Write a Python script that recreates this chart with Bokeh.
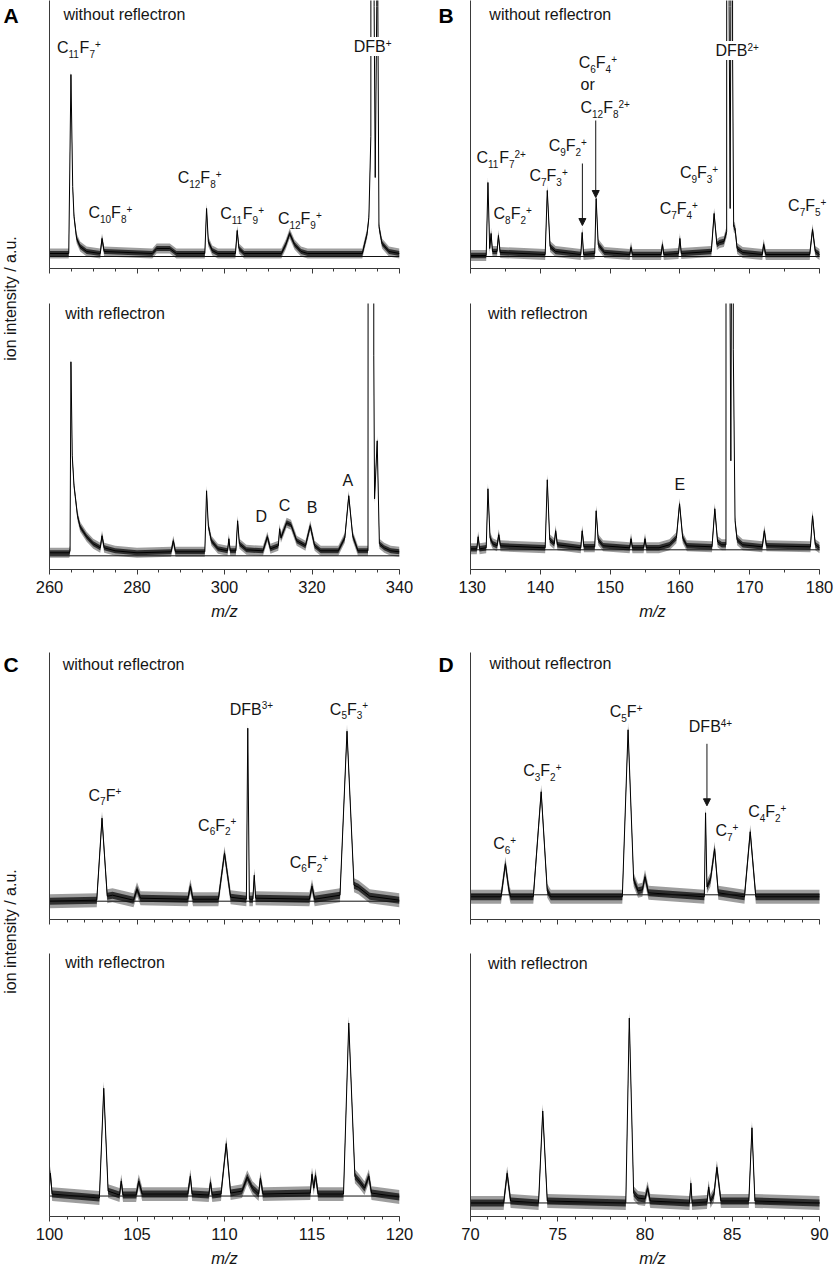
import math
import re
from bokeh.plotting import figure
from bokeh.layouts import row, column
from bokeh.models import (Range1d, Arrow, NormalHead, ColumnDataSource,
                          SingleIntervalTicker, FixedTicker, CustomJSTickFormatter)
from bokeh.core.properties import value
from bokeh.embed import file_html
from bokeh.resources import INLINE

# ------------------------------------------------------------------ data
# spectra as (m/z, intensity) vertices (a.u.; 2000 = off scale)
A_top = [(260.0, 3), (264.4, 3), (264.9, 182), (265.3, 70), (265.6, 40), (266.2, 18), (267.0, 10),
         (268.5, 5), (271.6, 3), (272.0, 18), (272.5, 5), (283.5, 3), (284.5, 8), (287.5, 8), (289.0, 3),
         (295.5, 3), (295.9, 48), (296.3, 15), (297.2, 6), (298.5, 3), (302.5, 3), (302.9, 26), (303.3, 8),
         (304.5, 3), (313.0, 3), (314.0, 12), (314.9, 23), (316.0, 12), (317.5, 5), (319.0, 3), (331.5, 3),
         (332.6, 23), (333.0, 39), (333.45, 120), (333.55, 2000), (334.1, 2000), (334.2, 250), (334.45, 79),
         (334.8, 250), (334.85, 2000), (334.95, 2000), (335.05, 250), (335.3, 30), (336.0, 13), (337.6, 5),
         (340.0, 3)]
A_bot = [(260.0, 3), (264.5, 3), (264.7, 5), (264.9, 194), (265.2, 100), (265.6, 70), (265.9, 59),
         (266.4, 40), (267.0, 29), (268.5, 19), (270.0, 12), (271.6, 8), (272.0, 20), (272.5, 8), (275.0, 5),
         (280.0, 3), (287.8, 4), (288.3, 15), (288.8, 4), (295.5, 4), (295.9, 65), (296.3, 30), (297.0, 15),
         (298.5, 7), (300.7, 5), (301.0, 17), (301.3, 5), (302.6, 5), (303.0, 35), (303.4, 12), (305.0, 6),
         (308.8, 5), (309.8, 19), (310.5, 7), (312.3, 10), (312.6, 27), (312.9, 18), (314.2, 33), (315.2, 31),
         (316.5, 15), (318.5, 10), (319.6, 30), (320.6, 10), (322.0, 5), (326.0, 5), (327.5, 18), (328.4, 60),
         (329.3, 20), (330.5, 5), (332.8, 5), (332.95, 2000), (334.05, 2000), (334.12, 200), (334.3, 57),
         (334.9, 115), (335.4, 12), (336.5, 8), (338.0, 5), (340.0, 4)]
B_top = [(130.0, 1), (132.25, 1), (132.5, 74), (132.75, 8), (132.95, 23), (133.15, 5), (133.8, 5), (134.0, 21),
         (134.25, 4), (140.7, 2), (141.0, 66), (141.4, 10), (142.2, 5), (145.8, 2), (146.0, 24), (146.2, 2),
         (147.8, 3), (148.0, 58), (148.3, 12), (149.2, 4), (152.8, 2), (153.0, 9), (153.2, 2), (157.3, 2),
         (157.5, 12), (157.7, 2), (159.8, 3), (160.0, 18), (160.2, 3), (164.5, 5), (164.9, 43), (165.3, 12),
         (165.7, 14), (166.3, 15), (166.7, 25), (166.75, 2000), (167.0, 2000), (167.05, 250), (167.2, 48),
         (167.3, 250), (167.35, 2000), (167.45, 2000), (167.55, 200), (167.7, 30), (167.9, 28), (168.2, 8),
         (169.0, 4), (171.8, 2), (172.0, 12), (172.3, 2), (178.6, 2), (179.0, 27), (179.4, 5), (180.0, 2)]
B_bot = [(130.0, 1), (130.9, 1), (131.1, 13), (131.3, 1), (132.25, 2), (132.5, 61), (132.8, 12), (133.2, 6),
         (133.8, 4), (134.05, 15), (134.3, 4), (140.7, 2), (141.0, 70), (141.35, 10), (142.0, 6), (142.2, 19),
         (142.45, 5), (145.8, 2), (146.0, 19), (146.25, 3), (147.8, 3), (148.0, 39), (148.3, 10), (149.0, 4),
         (152.8, 2), (153.0, 11), (153.2, 2), (154.8, 2), (155.0, 11), (155.2, 2), (157.0, 2), (158.5, 5),
         (159.5, 12), (159.95, 46), (160.4, 12), (161.0, 4), (164.6, 3), (165.0, 41), (165.4, 8), (166.0, 5),
         (166.6, 5), (166.65, 2000), (167.1, 2000), (167.15, 300), (167.3, 89), (167.4, 300), (167.45, 2000),
         (167.6, 2000), (167.65, 200), (167.9, 29), (168.2, 10), (169.0, 5), (171.8, 3), (172.1, 19),
         (172.4, 4), (178.7, 3), (179.0, 34), (179.4, 5), (180.0, 2)]
C_top = [(100.0, 0), (102.7, 1), (103.0, 83), (103.3, 5), (103.6, 6), (104.8, 1), (105.0, 12), (105.2, 3),
         (107.9, 2), (108.05, 15), (108.2, 2), (109.65, 2), (110.0, 48), (110.35, 4), (111.25, 2),
         (111.33, 173), (111.42, 2), (111.62, 2), (111.7, 26), (111.78, 3), (114.85, 2), (115.0, 15),
         (115.15, 2), (116.6, 6), (117.0, 170), (117.4, 16), (117.65, 14), (118.3, 5), (120.0, 1)]
C_bot = [(100.0, 10), (100.05, 23), (100.15, 2), (102.85, -2), (103.1, 109), (103.35, 5), (104.0, 1),
         (104.1, 15), (104.2, 1), (104.95, 1), (105.1, 15), (105.3, 2), (107.9, 2), (108.05, 20), (108.15, 2),
         (109.1, 1), (109.2, 14), (109.3, 1), (109.8, 2), (110.1, 53), (110.35, 3), (111.0, 5), (111.3, 19),
         (111.6, 8), (111.95, 2), (112.05, 18), (112.2, 2), (114.9, 3), (115.0, 22), (115.1, 8), (115.2, 21),
         (115.35, 2), (116.8, 2), (117.1, 175), (117.45, 20), (117.7, 15), (118.0, 8), (118.25, 20),
         (118.4, 3), (120.0, -1)]
D_top = [(70.0, -2), (71.75, -2), (72.0, 31), (72.2, 5), (72.3, -2), (73.6, -2), (74.05, 103), (74.4, 4),
         (74.6, -2), (78.7, -2), (79.03, 165), (79.35, 15), (79.6, 4), (79.85, 5), (80.0, 18), (80.2, 2),
         (83.4, -2), (83.47, 82), (83.55, 8), (83.75, 15), (83.99, 46), (84.2, 2), (85.7, -2), (86.03, 63),
         (86.35, -2), (90.0, -2)]
D_bot = [(70.0, 0), (71.9, 0), (72.1, 30), (72.3, 2), (73.9, 0), (74.14, 93), (74.4, 2), (78.9, 0),
         (79.1, 187), (79.35, 10), (79.6, 5), (80.0, 4), (80.15, 15), (80.3, 2), (82.55, 0), (82.63, 20),
         (82.7, 0), (83.55, 1), (83.65, 16), (83.75, 2), (83.95, 8), (84.12, 36), (84.35, 2), (85.95, 2),
         (86.13, 76), (86.3, 2), (90.0, 0)]

# noise half-amplitude (outer envelope) of each trace (a.u.)
NOISE = {"A_top": 5, "A_bot": 5, "B_top": 5.5, "B_bot": 5.5, "C_top": 7, "C_bot": 7, "D_top": 7, "D_bot": 7}

# x ranges (m/z)
XR = {"A": (260, 340), "B": (130, 180), "C": (100, 120), "D": (70, 90)}
TICK_MAJOR = {"A": 20, "B": 10, "C": 5, "D": 5}
TICK_MINOR_N = {"A": 4, "B": 2, "C": 5, "D": 5}

# peak annotations: {sub}, [sup]
A_top_labels = [("without reflectron", 263.2, 242), ("C{11}F{7}[+]", 261.7, 209), ("C{10}F{8}[+]", 268.9, 44),
                ("C{12}F{8}[+]", 289.3, 79), ("C{11}F{9}[+]", 299.0, 43), ("C{12}F{9}[+]", 312.2, 38)]
A_top_boxed = [("DFB[+]", 329.3, 210)]
A_bot_labels = [("with reflectron", 263.6, 242)]
A_bot_letters = [("D", 308.4, 39), ("C", 313.7, 50), ("B", 320.0, 48), ("A", 328.2, 75)]
B_top_labels = [("without reflectron", 132.7, 242), ("C{11}F{7}[2+]", 130.86, 99), ("C{8}F{2}[+]", 133.3, 43),
                ("C{7}F{3}[+]", 138.45, 81), ("C{9}F{2}[+]", 141.2, 111), ("C{6}F{4}[+]", 145.5, 194),
                ("or", 145.76, 171), ("C{12}F{8}[2+]", 145.76, 149), ("C{7}F{4}[+]", 157.1, 48),
                ("C{9}F{3}[+]", 160.0, 84), ("C{7}F{5}[+]", 175.5, 51)]
B_top_boxed = [("DFB[2+]", 164.96, 206)]
B_top_arrows = [(146.03, 93, 31), (147.94, 136, 59)]
B_bot_labels = [("with reflectron", 132.5, 236)]
B_bot_letters = [("E", 160.0, 65)]
C_top_labels = [("without reflectron", 100.75, 237), ("C{7}F[+]", 102.23, 106), ("C{6}F{2}[+]", 108.49, 76),
                ("DFB[3+]", 110.3, 192), ("C{6}F{2}[+]", 113.73, 39), ("C{5}F{3}[+]", 116.02, 192)]
C_bot_labels = [("with reflectron", 100.9, 236)]
D_top_labels = [("without reflectron", 71.09, 231), ("C{6}[+]", 71.3, 51), ("C{3}F{2}[+]", 73.02, 124),
                ("C{5}F[+]", 77.98, 183), ("DFB[4+]", 82.51, 168), ("C{7}[+]", 84.04, 64),
                ("C{4}F{2}[+]", 85.91, 83)]
D_top_arrows = [(83.55, 151, 89)]
D_bot_labels = [("with reflectron", 71.0, 242.6)]

Y_LABEL = "ion intensity / a.u."

# ------------------------------------------------------------------ style / layout
FONT = "Liberation Sans"
TC = "#151515"
AXC = "#3a3a3a"
MAIN = 16
SMALL = 10
MID = 0.36  # vertical distance (em) between glyph middle and alphabetic baseline
W = {"0": 556, "1": 556, "2": 556, "3": 556, "4": 556, "5": 556, "6": 556, "7": 556, "8": 556, "9": 556,
     "+": 584, "C": 722, "F": 611, "D": 722, "B": 667, "A": 667, "E": 667, "o": 556, "r": 333, " ": 278,
     "w": 722, "i": 222, "t": 278, "h": 556, "u": 556, "e": 556, "f": 278, "l": 222, "c": 500, "n": 556}

# page geometry (px): frame top, axis line, zero line
ROWS = {1: dict(h=285, top=0, mbt=0, mbb=17, axis=268),
        2: dict(h=345, top=303, mbt=18, mbb=61, axis=569),
        3: dict(h=305, top=652, mbt=22, mbb=16, axis=919),
        4: dict(h=334, top=953, mbt=18, mbb=50, axis=1219)}
BASE = {"A_top": 256, "B_top": 256, "A_bot": 555.3, "B_bot": 549.3,
        "C_top": 900.7, "D_top": 894.3, "C_bot": 1198.3, "D_bot": 1205.3}
STRIP_W = 22
MID_W = 38
COLS = {"L": dict(w=420 - STRIP_W, mbl=49 - STRIP_W, mbr=21, extra=0),
        "R": dict(w=414 - MID_W, mbl=50 - MID_W, mbr=0, extra=15)}


def text_rows(specs, letters=()):
    # y values are the visual centre of the capitals; offsets in screen px (down positive)
    d = dict(x=[], y=[], text=[], xo=[], yo=[], fs=[])
    for spec, x, y in specs:
        segs = re.findall(r"\{([^}]*)\}|\[([^\]]*)\]|([^{\[]+)", spec)
        off = 0.0
        base = 4.3 if spec == "or" else 5.7   # baseline below the centre
        for sub, sup, nor in segs:
            if nor:
                t, fs, bl = nor, MAIN, base
            elif sub:
                t, fs, bl = sub, SMALL, base + 4
            else:
                t, fs, bl = sup, SMALL, base - 6
            d["x"].append(x); d["y"].append(y); d["text"].append(t)
            d["xo"].append(off); d["yo"].append(bl - MID * fs); d["fs"].append(f"{fs}px")
            off += sum(W.get(c, 556) for c in t) / 1000 * fs
    for t, x, y in letters:
        wdt = sum(W.get(c, 556) for c in t) / 1000 * MAIN
        d["x"].append(x); d["y"].append(y); d["text"].append(t)
        d["xo"].append(-wdt / 2); d["yo"].append(5.7 - MID * MAIN); d["fs"].append(f"{MAIN}px")
    return d


def add_texts(p, d, boxed=False):
    if not d["x"]:
        return
    kw = dict(background_fill_color="white", padding=1) if boxed else {}
    p.text(x="x", y="y", text="text", x_offset="xo", y_offset="yo", text_font_size="fs",
           source=ColumnDataSource(d), text_font=value(FONT), text_color=TC,
           text_baseline="alphabetic", text_align="left", **kw)


def panel(key, col, rnum, data, labels, letters=(), boxed=(), arrows=(), show_labels=False):
    r = ROWS[rnum]
    c = COLS[col]
    pk = key[0]
    x0, x1 = XR[pk]
    frame_w = c["w"] - c["mbl"] - c["mbr"] - c["extra"]
    xend = x1 + c["extra"] * (x1 - x0) / frame_w
    base = BASE[key]
    yr = (-(r["axis"] - base), base - r["top"])
    p = figure(width=c["w"], height=r["h"], x_range=Range1d(x0, xend), y_range=Range1d(*yr),
               output_backend="svg", toolbar_location=None,
               min_border_left=c["mbl"], min_border_right=c["mbr"],
               min_border_top=r["mbt"], min_border_bottom=r["mbb"])
    p.outline_line_color = None
    p.xgrid.visible = False
    p.ygrid.visible = False
    p.background_fill_color = "white"
    p.border_fill_color = "white"

    ya = p.yaxis[0]
    ya.ticker = FixedTicker(ticks=[])
    ya.major_tick_line_color = None
    ya.minor_tick_line_color = None
    ya.major_label_text_font_size = "0px"
    ya.major_label_standoff = 0
    ya.axis_line_color = AXC
    ya.axis_line_width = 1

    xa = p.xaxis[0]
    xa.bounds = (x0, x1)
    xa.ticker = SingleIntervalTicker(interval=TICK_MAJOR[pk], num_minor_ticks=TICK_MINOR_N[pk])
    xa.axis_line_color = AXC
    xa.major_tick_line_color = AXC
    xa.minor_tick_line_color = AXC
    xa.major_tick_in = 0
    xa.major_tick_out = 5
    xa.minor_tick_in = 0
    xa.minor_tick_out = 3
    if show_labels:
        xa.major_label_text_font = FONT
        xa.major_label_text_font_size = f"{MAIN + 0.5}px"
        xa.major_label_text_color = TC
        xa.major_label_standoff = 6
        xa.axis_label = "m/z"
        xa.axis_label_text_font = FONT
        xa.axis_label_text_font_size = f"{MAIN + 0.5}px"
        xa.axis_label_text_font_style = "italic"
        xa.axis_label_text_color = TC
        xa.axis_label_standoff = 6
    else:
        xa.formatter = CustomJSTickFormatter(code="return ''")
        xa.major_label_text_font_size = "0px"
        xa.major_label_standoff = 0

    mz = [v[0] for v in data]
    it = [v[1] for v in data]
    n = NOISE[key]
    src = ColumnDataSource(dict(mz=mz, sig=it,
                                lo=[v - n for v in it], hi=[v + n for v in it],
                                lo2=[v - n / 2 for v in it], hi2=[v + n / 2 for v in it]))
    p.varea(x="mz", y1="lo", y2="hi", source=src, fill_color="black", fill_alpha=0.38)
    p.varea(x="mz", y1="lo2", y2="hi2", source=src, fill_color="black", fill_alpha=0.7)
    p.line(x="mz", y="sig", source=src, line_color="#000000", line_width=1)
    p.line(x=[x0, x1], y=[0, 0], line_color="#111111", line_width=1)

    add_texts(p, text_rows(labels, letters))
    add_texts(p, text_rows(boxed), boxed=True)

    for x, y0, y1 in arrows:
        p.add_layout(Arrow(x_start=x, y_start=y0, x_end=x, y_end=y1, line_color=TC, line_width=1,
                           end=NormalHead(size=7, fill_color=TC, line_color=TC, line_width=1)))
    return p


def strip(width, height, items):
    s = figure(width=width, height=height, x_range=Range1d(0, width), y_range=Range1d(height, 0),
               output_backend="svg", toolbar_location=None, min_border=0,
               x_axis_type=None, y_axis_type=None)
    s.outline_line_color = None
    s.grid.visible = False
    s.background_fill_color = "white"
    s.border_fill_color = "white"
    for x, y, t, size, bold, rot in items:
        if rot:
            s.text(x=[x], y=[y], text=[t], angle=math.pi / 2, text_font=value(FONT),
                   text_font_size=f"{size}px", text_color=TC, text_align="center", text_baseline="middle")
        else:
            s.text(x=[x], y=[y], text=[t], y_offset=[-MID * size], text_font=value(FONT),
                   text_font_size=f"{size}px", text_font_style="bold" if bold else "normal",
                   text_color="black", text_baseline="alphabetic")
    return s


pAt = panel("A_top", "L", 1, A_top, A_top_labels, boxed=A_top_boxed)
pBt = panel("B_top", "R", 1, B_top, B_top_labels, boxed=B_top_boxed, arrows=B_top_arrows)
pAb = panel("A_bot", "L", 2, A_bot, A_bot_labels, letters=A_bot_letters, show_labels=True)
pBb = panel("B_bot", "R", 2, B_bot, B_bot_labels, letters=B_bot_letters, show_labels=True)
pCt = panel("C_top", "L", 3, C_top, C_top_labels)
pDt = panel("D_top", "R", 3, D_top, D_top_labels, arrows=D_top_arrows)
pCb = panel("C_bot", "L", 4, C_bot, C_bot_labels, show_labels=True)
pDb = panel("D_bot", "R", 4, D_bot, D_bot_labels, show_labels=True)

# (x, baseline y, text, size, bold, rotated) in strip pixels
s1 = strip(STRIP_W, 630, [(3, 23, "A", 21, True, False), (10, 298, Y_LABEL, MAIN, False, True)])
m1 = strip(MID_W, 630, [(18, 23, "B", 21, True, False)])
s2 = strip(STRIP_W, 639, [(3, 42, "C", 21, True, False), (10, 301, Y_LABEL, MAIN, False, True)])
m2 = strip(MID_W, 639, [(18, 42, "D", 21, True, False)])

top = row(s1, column(pAt, pAb), m1, column(pBt, pBb))
bottom = row(s2, column(pCt, pCb), m2, column(pDt, pDb))
root = column(top, bottom)

open("out.html", "w").write(file_html(root, INLINE))
